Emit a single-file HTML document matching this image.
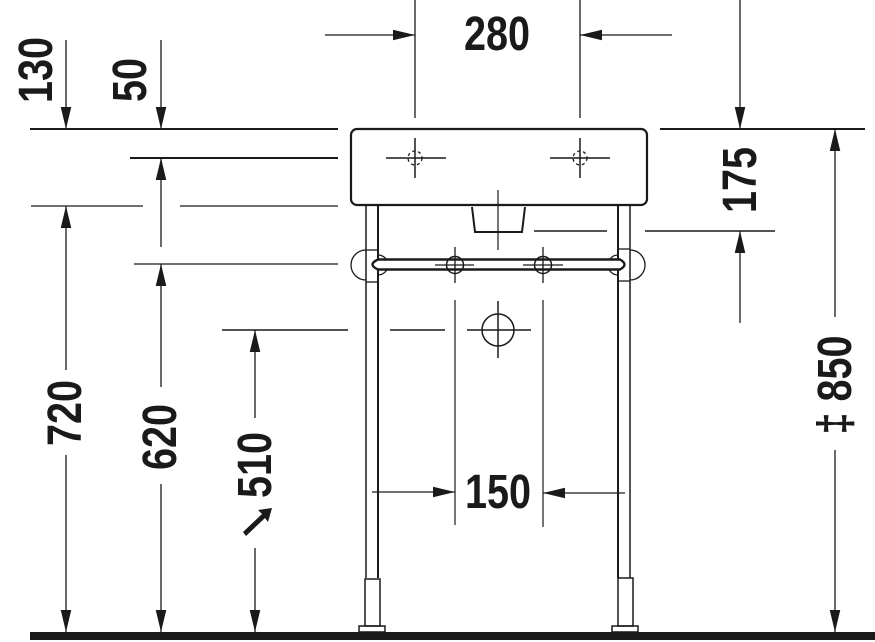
<!DOCTYPE html>
<html><head><meta charset="utf-8"><style>body{margin:0;background:#fff}svg{display:block}text{font-family:"Liberation Sans",sans-serif;font-weight:bold;font-size:44px;fill:#1a1a1a}</style></head><body>
<svg width="875" height="642" viewBox="0 0 875 642" xmlns="http://www.w3.org/2000/svg">
<defs>
<marker id="a" viewBox="0 0 10 10" refX="10" refY="5" markerWidth="22" markerHeight="22" markerUnits="userSpaceOnUse" orient="auto"><path d="M0,2.6L10,5L0,7.4z" fill="#1a1a1a"/></marker>
</defs>
<g stroke="#1a1a1a" fill="none">
<line x1="30" y1="129" x2="338" y2="129" stroke-width="2"/>
<line x1="660" y1="129" x2="865" y2="129" stroke-width="2"/>
<line x1="130" y1="158" x2="338" y2="158" stroke-width="2"/>
<line x1="31" y1="206" x2="143" y2="206" stroke-width="1.3"/>
<line x1="180" y1="206" x2="338" y2="206" stroke-width="1.3"/>
<line x1="134" y1="264" x2="338" y2="264" stroke-width="1.3"/>
<line x1="222" y1="330" x2="348" y2="330" stroke-width="1.5"/>
<line x1="390" y1="330" x2="445" y2="330" stroke-width="1.5"/>
<line x1="534" y1="231" x2="607" y2="231" stroke-width="1.5"/>
<line x1="645" y1="231" x2="775" y2="231" stroke-width="1.5"/>
<line x1="415" y1="0" x2="415" y2="118" stroke-width="1.3"/>
<line x1="580" y1="0" x2="580" y2="118" stroke-width="1.3"/>
<rect x="351" y="129" width="296" height="76" rx="6" stroke-width="2.2"/>
<line x1="386" y1="158" x2="446" y2="158" stroke-width="1.5"/>
<line x1="415" y1="138" x2="415" y2="178" stroke-width="1.5"/>
<line x1="550" y1="158" x2="610" y2="158" stroke-width="1.5"/>
<line x1="580" y1="138" x2="580" y2="178" stroke-width="1.5"/>
<circle cx="415" cy="158" r="7" stroke-width="1.3" stroke-dasharray="3,3"/>
<circle cx="580" cy="158" r="7" stroke-width="1.3" stroke-dasharray="3,3"/>
<path d="M472,207 L475,232 L522,232 L525,207" stroke-width="2"/>
<line x1="498" y1="190" x2="498" y2="250" stroke-width="1.2"/>
<line x1="366" y1="206" x2="366" y2="578" stroke-width="1.5"/>
<line x1="378" y1="206" x2="378" y2="578" stroke-width="2"/>
<line x1="618" y1="206" x2="618" y2="578" stroke-width="2"/>
<line x1="630" y1="206" x2="630" y2="578" stroke-width="1.5"/>
<rect x="365" y="579" width="15" height="47" stroke-width="1.5"/>
<rect x="359" y="626" width="26" height="6" stroke-width="1.5"/>
<rect x="618" y="578" width="15" height="48" stroke-width="1.5"/>
<rect x="612" y="626" width="26" height="6" stroke-width="1.5"/>
<path d="M366,250 A14,14 0 0 0 366,280" stroke-width="1.3"/>
<path d="M378,255 A10,10 0 0 1 378,275" stroke-width="1.3"/>
<path d="M630,250 A14,14 0 0 1 630,280" stroke-width="1.3"/>
<path d="M618,255 A10,10 0 0 0 618,275" stroke-width="1.3"/>
<line x1="366" y1="250" x2="378" y2="250" stroke-width="1.3"/>
<line x1="366" y1="282" x2="378" y2="282" stroke-width="1.3"/>
<line x1="618" y1="249" x2="630" y2="249" stroke-width="1.3"/>
<line x1="618" y1="281" x2="630" y2="281" stroke-width="1.3"/>
<path d="M378,259.5 L620,259.5 Q629,264.5 620,269.5 L378,269.5 Q367,264.5 378,259.5 Z" stroke-width="2.4" fill="#fff"/>
<circle cx="455" cy="265" r="8.5" stroke-width="1.5"/>
<circle cx="543" cy="265" r="8.5" stroke-width="1.5"/>
<line x1="435" y1="265" x2="474" y2="265" stroke-width="1.3"/>
<line x1="455" y1="247" x2="455" y2="283" stroke-width="1.3"/>
<line x1="523" y1="265" x2="563" y2="265" stroke-width="1.3"/>
<line x1="543" y1="247" x2="543" y2="283" stroke-width="1.3"/>
<circle cx="498" cy="330" r="16" stroke-width="1.5"/>
<line x1="467" y1="330" x2="531" y2="330" stroke-width="1.5"/>
<line x1="498" y1="301" x2="498" y2="358" stroke-width="1.5"/>
<line x1="455" y1="300" x2="455" y2="525" stroke-width="1.2"/>
<line x1="543" y1="300" x2="543" y2="527" stroke-width="1.2"/>
<g stroke-width="1.3">
<line x1="325" y1="35" x2="415" y2="35" marker-end="url(#a)"/>
<line x1="672" y1="35" x2="580" y2="35" marker-end="url(#a)"/>
<line x1="372" y1="492" x2="455" y2="492" marker-end="url(#a)"/>
<line x1="625" y1="493" x2="543" y2="493" marker-end="url(#a)"/>
<line x1="66" y1="40" x2="66" y2="129" marker-end="url(#a)"/>
<line x1="161" y1="40" x2="161" y2="129" marker-end="url(#a)"/>
<line x1="161" y1="247" x2="161" y2="158" marker-end="url(#a)"/>
<line x1="66" y1="370" x2="66" y2="206" marker-end="url(#a)"/>
<line x1="66" y1="455" x2="66" y2="632" marker-end="url(#a)"/>
<line x1="161" y1="387" x2="161" y2="264" marker-end="url(#a)"/>
<line x1="161" y1="484" x2="161" y2="632" marker-end="url(#a)"/>
<line x1="255" y1="418" x2="255" y2="330" marker-end="url(#a)"/>
<line x1="255" y1="548" x2="255" y2="632" marker-end="url(#a)"/>
<line x1="740" y1="0" x2="740" y2="129" marker-end="url(#a)"/>
<line x1="740" y1="323" x2="740" y2="231" marker-end="url(#a)"/>
<line x1="835" y1="317" x2="835" y2="129" marker-end="url(#a)"/>
<line x1="835" y1="450" x2="835" y2="632" marker-end="url(#a)"/>
</g>
</g>
<path d="M243,532 L262,514 L258,510 L272,508 L268,522 L265,518 L246,536 Z" fill="#1a1a1a"/>
<rect x="30" y="632" width="845" height="8" fill="#1a1a1a"/>
<text transform="translate(497,50) scale(0.9,1.1)" text-anchor="middle">280</text>
<text transform="translate(498,508) scale(0.9,1.1)" text-anchor="middle">150</text>
<text transform="translate(52,70) rotate(-90) scale(0.9,1.1)" text-anchor="middle">130</text>
<text transform="translate(146,80) rotate(-90) scale(0.9,1.1)" text-anchor="middle">50</text>
<text transform="translate(81,413) rotate(-90) scale(0.9,1.1)" text-anchor="middle">720</text>
<text transform="translate(176,437) rotate(-90) scale(0.9,1.1)" text-anchor="middle">620</text>
<text transform="translate(271,465) rotate(-90) scale(0.9,1.1)" text-anchor="middle">510</text>
<text transform="translate(756,180) rotate(-90) scale(0.9,1.1)" text-anchor="middle">175</text>
<text transform="translate(851,385) rotate(-90) scale(0.9,1.1)" text-anchor="middle">‡ 850</text>
</svg>
</body></html>
